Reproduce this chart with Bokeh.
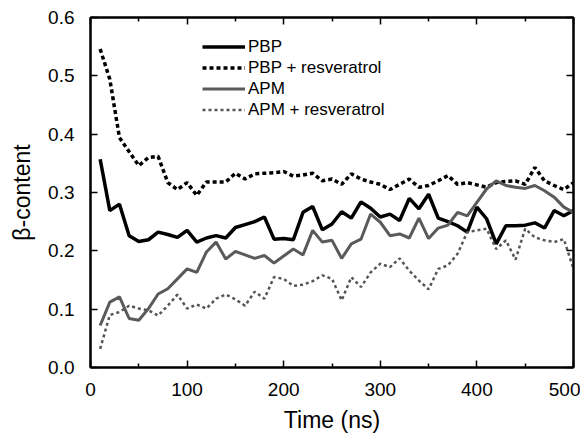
from bokeh.plotting import figure
from bokeh.models import (Range1d, LinearAxis, Legend, LegendItem, FixedTicker,
                          PrintfTickFormatter, CustomJSTickFormatter)
from bokeh.embed import file_html
from bokeh.resources import INLINE

time_ns = list(range(10, 501, 10))

pbp = [0.357, 0.269, 0.280, 0.226, 0.216, 0.219, 0.232, 0.228, 0.223, 0.235,
       0.215, 0.222, 0.226, 0.222, 0.240, 0.245, 0.250, 0.258, 0.220, 0.221,
       0.219, 0.266, 0.276, 0.236, 0.246, 0.267, 0.256, 0.284, 0.273, 0.258,
       0.263, 0.252, 0.290, 0.272, 0.297, 0.256, 0.250, 0.243, 0.232, 0.275,
       0.255, 0.212, 0.243, 0.243, 0.244, 0.248, 0.239, 0.269, 0.260, 0.269]

pbp_res = [0.546, 0.494, 0.394, 0.370, 0.346, 0.360, 0.362, 0.317, 0.305, 0.317,
           0.295, 0.318, 0.318, 0.318, 0.333, 0.323, 0.332, 0.333, 0.334, 0.336,
           0.328, 0.330, 0.333, 0.320, 0.323, 0.314, 0.332, 0.323, 0.318, 0.314,
           0.305, 0.314, 0.323, 0.309, 0.312, 0.320, 0.329, 0.314, 0.317, 0.313,
           0.309, 0.317, 0.319, 0.320, 0.314, 0.343, 0.320, 0.312, 0.305, 0.317]

apm = [0.072, 0.112, 0.121, 0.084, 0.081, 0.101, 0.126, 0.135, 0.152, 0.169,
       0.163, 0.198, 0.215, 0.186, 0.199, 0.193, 0.187, 0.192, 0.179, 0.191,
       0.203, 0.193, 0.235, 0.215, 0.218, 0.187, 0.212, 0.220, 0.263, 0.249,
       0.226, 0.229, 0.222, 0.256, 0.221, 0.239, 0.244, 0.266, 0.260, 0.283,
       0.306, 0.320, 0.312, 0.309, 0.307, 0.312, 0.303, 0.292, 0.275, 0.266]

apm_res = [0.032, 0.090, 0.095, 0.106, 0.101, 0.098, 0.089, 0.106, 0.125, 0.101,
           0.108, 0.101, 0.118, 0.125, 0.117, 0.106, 0.130, 0.118, 0.155, 0.152,
           0.140, 0.142, 0.148, 0.158, 0.152, 0.115, 0.155, 0.138, 0.163, 0.178,
           0.172, 0.187, 0.166, 0.149, 0.134, 0.169, 0.175, 0.195, 0.232, 0.235,
           0.238, 0.203, 0.218, 0.185, 0.238, 0.223, 0.218, 0.215, 0.220, 0.169]

series_labels = ["PBP", "PBP + resveratrol", "APM", "APM + resveratrol"]
x_ticks = [0, 100, 200, 300, 400, 500]
y_ticks = [0.0, 0.1, 0.2, 0.3, 0.4, 0.5, 0.6]

FONT = "Liberation Sans"

p = figure(width=580, height=435, output_backend="svg", toolbar_location=None,
           x_range=Range1d(0, 500), y_range=Range1d(0, 0.6),
           min_border_left=90, min_border_right=7, min_border_top=17,
           min_border_bottom=66, background_fill_color="white",
           border_fill_color="white")
p.grid.visible = False
p.outline_line_color = "black"
p.outline_line_width = 2

xt = FixedTicker(ticks=x_ticks, minor_ticks=[50, 150, 250, 350, 450])
yt = FixedTicker(ticks=y_ticks, minor_ticks=[])

def style_axis(ax, labels=True):
    ax.axis_line_width = 2
    ax.axis_line_color = "black"
    ax.major_tick_in = 7
    ax.major_tick_out = 0
    ax.minor_tick_in = 4
    ax.minor_tick_out = 0
    ax.major_tick_line_width = 1.5
    ax.minor_tick_line_width = 1.5
    ax.major_tick_line_color = "black"
    ax.minor_tick_line_color = "black"
    if labels:
        ax.major_label_text_font = FONT
        ax.major_label_text_font_size = "19px"
        ax.major_label_text_color = "black"
        ax.axis_label_text_font = FONT
        ax.axis_label_text_font_size = "23px"
        ax.axis_label_text_font_style = "normal"
        ax.axis_label_text_color = "black"
    else:
        ax.formatter = CustomJSTickFormatter(code="return '';")
        ax.major_label_standoff = 0

p.xaxis.ticker = xt
p.yaxis.ticker = yt
p.yaxis.formatter = PrintfTickFormatter(format="%.1f")
p.xaxis.axis_label = "Time (ns)"
p.yaxis.axis_label = "β-content"
style_axis(p.xaxis[0])
style_axis(p.yaxis[0])
p.xaxis.major_label_standoff = 15
p.yaxis.major_label_standoff = 16
p.xaxis.axis_label_standoff = 8
p.yaxis.axis_label_standoff = 10

top = LinearAxis(ticker=xt)
style_axis(top, labels=False)
p.add_layout(top, "above")
right = LinearAxis(ticker=yt)
style_axis(right, labels=False)
p.add_layout(right, "right")

r1 = p.line(time_ns, pbp, line_color="black", line_width=3.5)
r2 = p.line(time_ns, pbp_res, line_color="black", line_width=3.5, line_dash="4 3")
r3 = p.line(time_ns, apm, line_color="#5a5a5a", line_width=3)
r4 = p.line(time_ns, apm_res, line_color="#555555", line_width=2.5, line_dash="3 3")

legend = Legend(items=[LegendItem(label=series_labels[0], renderers=[r1]),
                       LegendItem(label=series_labels[1], renderers=[r2]),
                       LegendItem(label=series_labels[2], renderers=[r3]),
                       LegendItem(label=series_labels[3], renderers=[r4])],
                location=(112, 247), border_line_color=None,
                background_fill_alpha=0, padding=0, margin=0, spacing=0,
                glyph_width=43, glyph_height=21, label_height=21,
                label_standoff=3, label_text_font=FONT,
                label_text_font_size="17px", label_text_color="black")
p.add_layout(legend)

open("out.html", "w").write(file_html(p, INLINE))
